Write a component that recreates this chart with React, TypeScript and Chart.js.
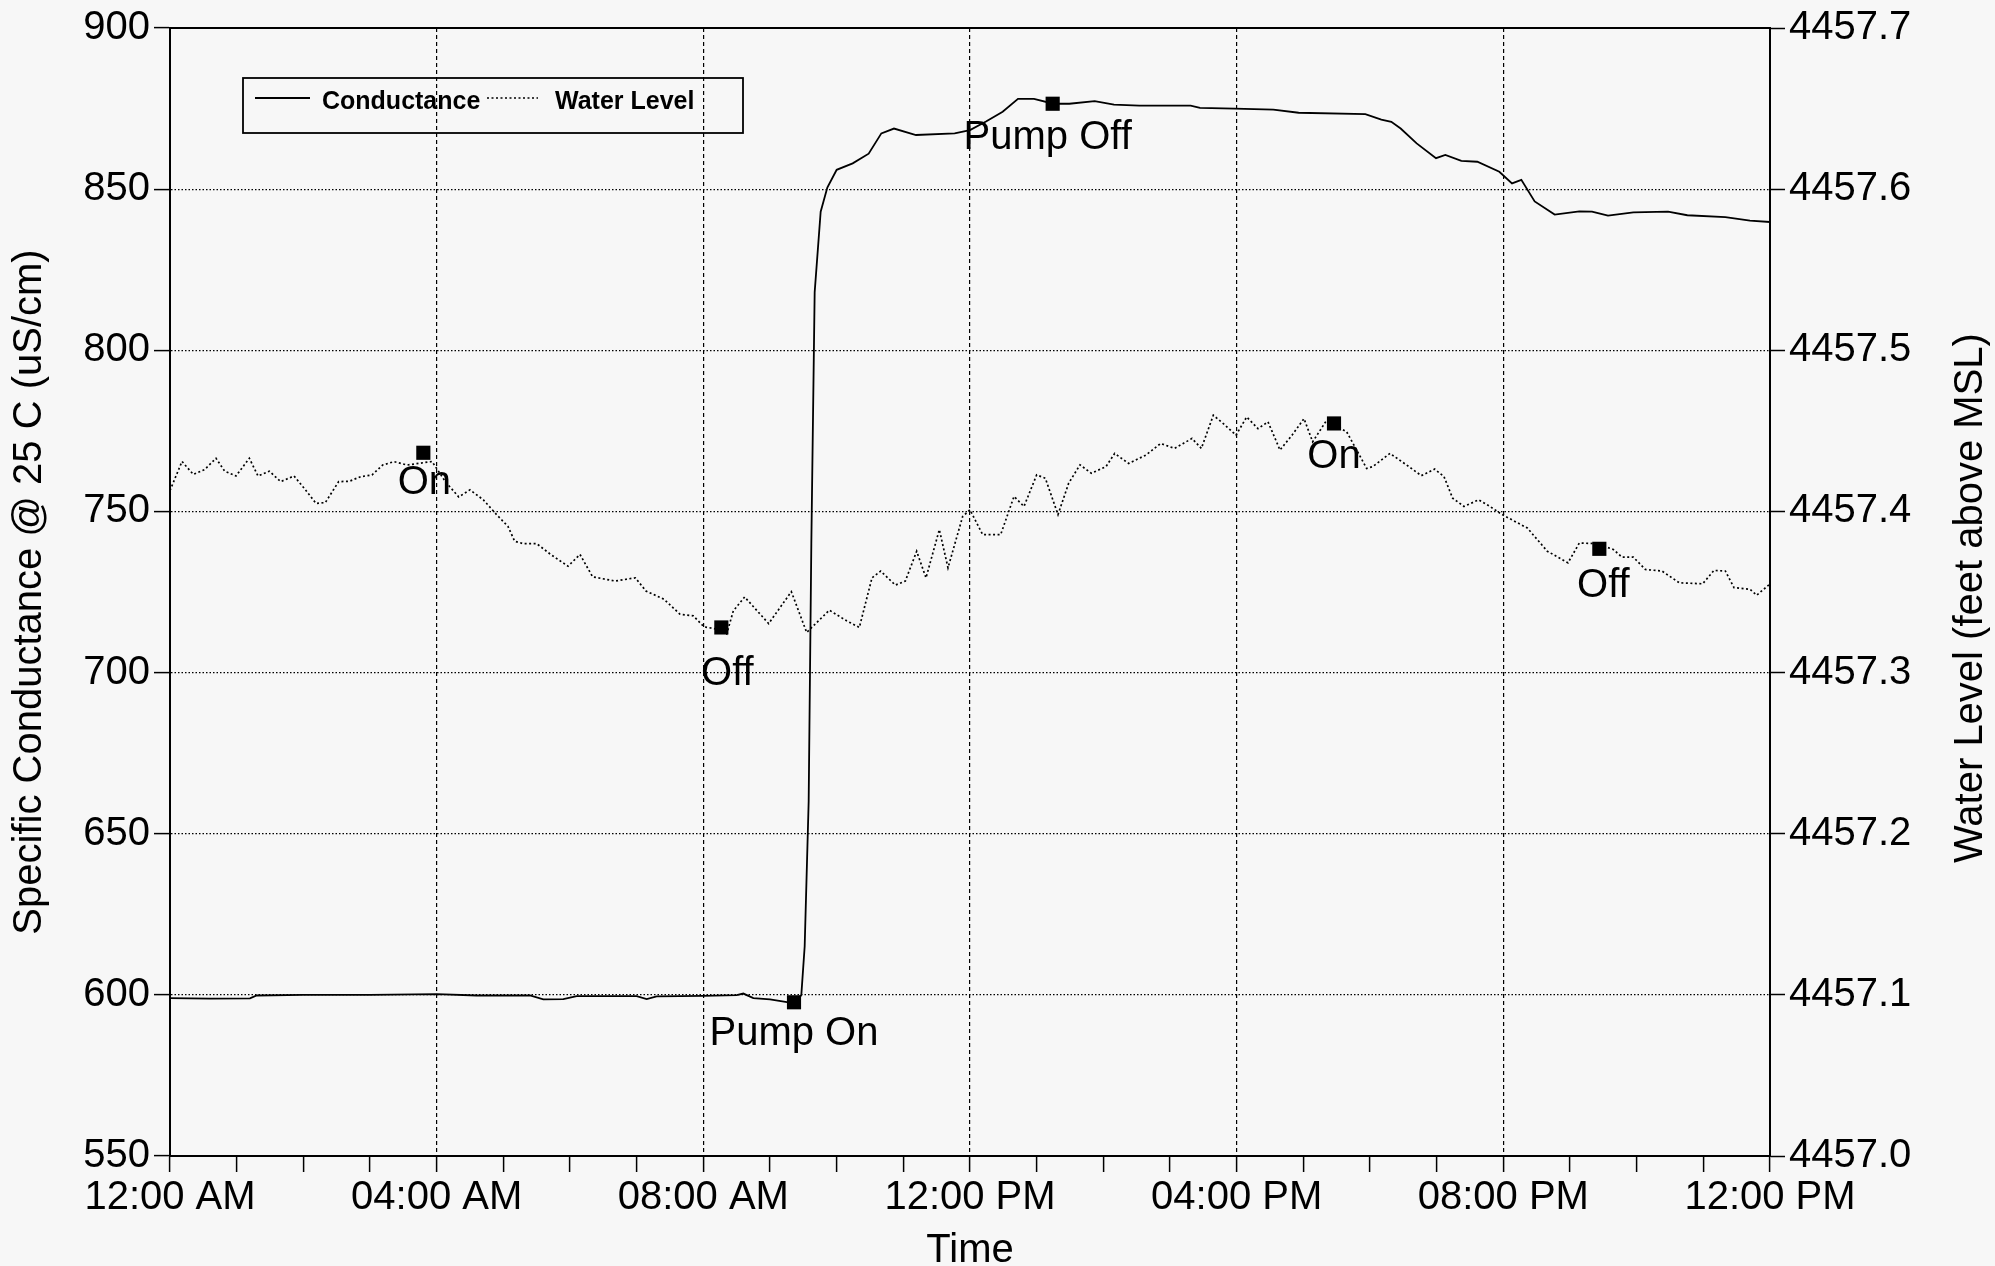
import React, { useEffect, useRef } from "react";
import { Chart, registerables } from "chart.js";

Chart.register(...registerables);

const FONT = "'Liberation Sans', Arial, Helvetica, sans-serif";

// ---- axis ticks ----
const hourTicks = [0, 4, 8, 12, 16, 20, 24];
const hourTickLabels = ["12:00 AM", "04:00 AM", "08:00 AM", "12:00 PM", "04:00 PM", "08:00 PM", "12:00 PM"];
const conductanceMin = 550;
const conductanceMax = 900;
const conductanceStep = 50;
const waterMin = 4457.0;
const waterMax = 4457.7;
const waterStep = 0.1;

// ---- Conductance (hours since midnight, uS/cm) ----
const conductanceTimes = [
  0.0, 0.6, 1.2, 1.3, 2.0, 3.0, 4.0, 4.6, 5.4, 5.6, 5.9, 6.1, 7.0, 7.15, 7.3, 8.0, 8.5, 8.6, 8.75, 9.0,
  9.3, 9.4, 9.47, 9.52, 9.58, 9.62, 9.67, 9.76, 9.86, 10.0, 10.24, 10.48, 10.67, 10.86, 11.19, 11.77, 12.0,
  12.24, 12.49, 12.72, 12.96, 13.25, 13.49, 13.87, 14.16, 14.54, 15.31, 15.45, 15.97, 16.55, 16.93, 17.93,
  18.17, 18.32, 18.46, 18.7, 18.99, 19.13, 19.37, 19.61, 19.94, 20.13, 20.27, 20.47, 20.77, 21.14, 21.33,
  21.57, 21.95, 22.47, 22.76, 23.33, 23.7, 24.0,
];
const conductanceValues = [
  599.0, 598.8, 598.9, 599.8, 600.0, 600.0, 600.2, 599.8, 599.8, 598.6, 598.7, 599.6, 599.6, 598.7, 599.5, 599.7, 599.9, 600.4, 599.0, 598.6,
  597.6, 597.8, 600.0, 615.0, 660.0, 740.0, 818.0, 843.0, 850.5, 856.0, 858.0, 861.0, 867.3, 868.8, 866.8, 867.3, 868.3,
  871.0, 874.0, 878.0, 878.0, 876.5, 876.5, 877.3, 876.2, 875.9, 875.9, 875.2, 875.0, 874.7, 873.7, 873.3,
  871.6, 870.9, 868.8, 864.2, 859.6, 860.6, 858.8, 858.5, 855.4, 851.8, 852.9, 846.2, 842.1, 843.1, 843.0,
  841.8, 842.8, 843.0, 841.9, 841.3, 840.2, 839.8,
];

// ---- Water level (hours since midnight, feet above MSL) ----
const waterTimes = [
  0.0, 0.18, 0.35, 0.52, 0.69, 0.82, 0.99, 1.19, 1.32, 1.49, 1.66, 1.86, 2.02, 2.19, 2.33, 2.53, 2.69, 2.86,
  3.03, 3.19, 3.36, 3.56, 3.93, 4.13, 4.33, 4.5, 4.7, 4.9, 5.07, 5.17, 5.3, 5.5, 5.71, 5.97, 6.15, 6.34,
  6.68, 6.98, 7.14, 7.41, 7.65, 7.85, 8.01, 8.2, 8.35, 8.45, 8.62, 8.98, 9.32, 9.55, 9.89, 10.15, 10.34,
  10.53, 10.66, 10.88, 11.03, 11.2, 11.34, 11.54, 11.67, 11.89, 12.0, 12.19, 12.46, 12.66, 12.81, 13.0,
  13.13, 13.32, 13.48, 13.65, 13.82, 14.04, 14.17, 14.38, 14.64, 14.86, 15.07, 15.2, 15.33, 15.47, 15.65,
  15.8, 15.99, 16.15, 16.32, 16.47, 16.65, 16.83, 17.01, 17.14, 17.35, 17.65, 17.95, 18.04, 18.3, 18.55,
  18.77, 18.97, 19.11, 19.24, 19.41, 19.63, 19.8, 19.97, 20.36, 20.66, 20.97, 21.14, 21.4, 21.65, 21.78,
  21.95, 22.13, 22.38, 22.64, 22.99, 23.16, 23.33, 23.46, 23.7, 23.8, 24.0,
];
const waterValues = [
  4457.413, 4457.431, 4457.423, 4457.426, 4457.433, 4457.425, 4457.422, 4457.433, 4457.422, 4457.425, 4457.4185, 4457.422, 4457.414, 4457.405, 4457.4055, 4457.4185, 4457.4187, 4457.4216,
  4457.4226, 4457.4288, 4457.4309, 4457.4288, 4457.431, 4457.4185, 4457.409, 4457.4134, 4457.4072, 4457.398, 4457.3907, 4457.3815, 4457.38, 4457.38, 4457.3733, 4457.366, 4457.3733, 4457.3594,
  4457.3568, 4457.3588, 4457.3506, 4457.3455, 4457.3362, 4457.3352, 4457.3284, 4457.327, 4457.3239, 4457.3383, 4457.3469, 4457.3304, 4457.3502, 4457.3249, 4457.3387, 4457.3321, 4457.328,
  4457.3588, 4457.363, 4457.3543, 4457.3568, 4457.3753, 4457.3588, 4457.3887, 4457.365, 4457.3969, 4457.401, 4457.3856, 4457.3856, 4457.4093, 4457.4031, 4457.4227,
  4457.4206, 4457.398, 4457.4175, 4457.4289, 4457.4237, 4457.4278, 4457.436, 4457.4298, 4457.435, 4457.4422, 4457.4391, 4457.4422, 4457.4453, 4457.4391, 4457.4597,
  4457.4545, 4457.4473, 4457.4586, 4457.4514, 4457.4556, 4457.4381, 4457.4473, 4457.4576, 4457.4432, 4457.4566, 4457.4494, 4457.4267, 4457.4278, 4457.436, 4457.4288,
  4457.4222, 4457.4263, 4457.4216, 4457.4082, 4457.4031, 4457.4072, 4457.4031, 4457.3983, 4457.3897, 4457.3753, 4457.3681, 4457.3804, 4457.38, 4457.3764, 4457.3716,
  4457.3716, 4457.364, 4457.363, 4457.3557, 4457.3551, 4457.3634, 4457.363, 4457.3527, 4457.3517, 4457.348, 4457.355,
];

// ---- Event markers ----
const pumpEventLabels = ["Pump On", "Pump Off"];
const pumpEventTimes = [9.36, 13.24];
const pumpEventValues = [597.7, 876.5];
const wellEventLabels = ["On", "Off", "On", "Off"];
const wellEventTimes = [3.8, 8.27, 17.46, 21.44];
const wellEventValues = [4457.4364, 4457.328, 4457.4546, 4457.3768];

// label placement relative to marker (styling, pixels)
const pumpLabelOffsets = [{ dx: 0, dy: 29 }, { dx: -5, dy: 31 }];
const wellLabelOffsets = [{ dx: 1, dy: 27 }, { dx: 6, dy: 44 }, { dx: 0, dy: 31 }, { dx: 4, dy: 34 }];

const toPoints = (xs: number[], ys: number[]) => xs.map((x, i) => ({ x, y: ys[i] }));

const overlayPlugin = {
  id: "overlay",
  afterDraw(chart: any) {
    const ctx = chart.ctx as CanvasRenderingContext2D;
    const { left, right, top } = chart.chartArea;
    ctx.save();
    // top frame line
    ctx.strokeStyle = "#000";
    ctx.lineWidth = 2;
    ctx.beginPath();
    ctx.moveTo(left, top);
    ctx.lineTo(right, top);
    ctx.stroke();

    // legend box
    const lx = 243, ly = 78, lw = 500, lh = 55;
    ctx.lineWidth = 1.8;
    ctx.strokeRect(lx, ly, lw, lh);
    const lineY = 98;
    ctx.lineWidth = 1.8;
    ctx.setLineDash([]);
    ctx.beginPath();
    ctx.moveTo(255, lineY);
    ctx.lineTo(310, lineY);
    ctx.stroke();
    ctx.lineWidth = 1.6;
    ctx.setLineDash([2, 2.5]);
    ctx.beginPath();
    ctx.moveTo(487, lineY);
    ctx.lineTo(538, lineY);
    ctx.stroke();
    ctx.setLineDash([]);
    ctx.fillStyle = "#000";
    ctx.font = `bold 25px ${FONT}`;
    ctx.textAlign = "left";
    ctx.textBaseline = "alphabetic";
    ctx.fillText("Conductance", 322, 109);
    ctx.fillText("Water Level", 555, 109);

    // event labels
    ctx.font = `40px ${FONT}`;
    ctx.textAlign = "center";
    const drawLabels = (dsIndex: number, labels: string[], offs: { dx: number; dy: number }[]) => {
      const meta = chart.getDatasetMeta(dsIndex);
      meta.data.forEach((el: any, i: number) => {
        ctx.fillText(labels[i], el.x + offs[i].dx, el.y + offs[i].dy + 14);
      });
    };
    drawLabels(0, pumpEventLabels, pumpLabelOffsets);
    drawLabels(1, wellEventLabels, wellLabelOffsets);

    // right axis title (reads bottom-to-top)
    ctx.translate(1971, 598);
    ctx.rotate(-Math.PI / 2);
    ctx.textAlign = "center";
    ctx.textBaseline = "middle";
    ctx.font = `40px ${FONT}`;
    ctx.fillText("Water Level (feet above MSL)", 0, 0);
    ctx.restore();
  },
};

export default function App() {
  const ref = useRef<HTMLCanvasElement>(null);

  useEffect(() => {
    if (!ref.current) return;
    const chart = new Chart(ref.current, {
      type: "line",
      data: {
        datasets: [
          {
            label: "Pump events",
            data: toPoints(pumpEventTimes, pumpEventValues),
            yAxisID: "y",
            showLine: false,
            pointStyle: "rect",
            pointRadius: 10,
            pointBackgroundColor: "#000",
            pointBorderColor: "#000",
            pointBorderWidth: 0,
            order: 0,
          },
          {
            label: "Well events",
            data: toPoints(wellEventTimes, wellEventValues),
            yAxisID: "y1",
            showLine: false,
            pointStyle: "rect",
            pointRadius: 10,
            pointBackgroundColor: "#000",
            pointBorderColor: "#000",
            pointBorderWidth: 0,
            order: 0,
          },
          {
            label: "Conductance",
            data: toPoints(conductanceTimes, conductanceValues),
            yAxisID: "y",
            borderColor: "#000",
            borderWidth: 1.8,
            pointRadius: 0,
            tension: 0,
            order: 1,
          },
          {
            label: "Water Level",
            data: toPoints(waterTimes, waterValues),
            yAxisID: "y1",
            borderColor: "#000",
            borderWidth: 1.7,
            borderDash: [2, 2.5],
            pointRadius: 0,
            tension: 0,
            order: 1,
          },
        ],
      },
      options: {
        responsive: false,
        animation: false,
        devicePixelRatio: 1,
        layout: { padding: { top: 23, left: 0, right: 0, bottom: 0 } },
        plugins: { legend: { display: false }, tooltip: { enabled: false } },
        scales: {
          x: {
            type: "linear",
            position: "bottom",
            min: 0,
            max: 24,
            ticks: {
              stepSize: 1,
              autoSkip: false,
              maxRotation: 0,
              minRotation: 0,
              padding: 2,
              color: "#000",
              font: { family: FONT, size: 40 },
              callback: (v: any) => {
                const i = hourTicks.indexOf(Number(v));
                return i >= 0 ? hourTickLabels[i] : "";
              },
            },
            grid: {
              color: (c: any) => (c.tick && Number(c.tick.value) % 4 === 0 ? "#000" : "rgba(0,0,0,0)"),
              lineWidth: 1.2,
              tickColor: "#000",
              tickLength: 16,
              tickWidth: 1.5,
              tickBorderDash: [],
            },
            border: { display: true, color: "#000", width: 2, dash: [4, 3] },
            title: {
              display: true,
              text: "Time",
              color: "#000",
              font: { family: FONT, size: 40, lineHeight: 0.75 },
              padding: 0,
            },
            afterFit: (s: any) => {
              s.height = 110;
            },
          },
          y: {
            type: "linear",
            position: "left",
            min: conductanceMin,
            max: conductanceMax,
            ticks: { stepSize: conductanceStep, padding: 4, color: "#000", font: { family: FONT, size: 40 } },
            grid: { color: "#000", lineWidth: 1.2, tickColor: "#000", tickLength: 16, tickWidth: 1.5, tickBorderDash: [] },
            border: { display: true, color: "#000", width: 2, dash: [1.5, 2] },
            title: {
              display: true,
              text: "Specific Conductance @ 25 C (uS/cm)",
              color: "#000",
              font: { family: FONT, size: 40 },
              padding: { top: 6, bottom: 0 },
            },
            afterFit: (s: any) => {
              s.width = 170;
            },
          },
          y1: {
            type: "linear",
            position: "right",
            min: waterMin,
            max: waterMax,
            ticks: {
              stepSize: waterStep,
              padding: 4,
              color: "#000",
              font: { family: FONT, size: 40 },
              callback: (v: any) => Number(v).toFixed(1),
            },
            grid: { drawOnChartArea: false, tickColor: "#000", tickLength: 15, tickWidth: 1.5 },
            border: { display: true, color: "#000", width: 2 },
            afterFit: (s: any) => {
              s.width = 225;
            },
          },
        },
      } as any,
      plugins: [overlayPlugin],
    });
    return () => chart.destroy();
  }, []);

  return (
    <div
      style={{
        position: "fixed",
        left: 0,
        top: 0,
        width: 1995,
        height: 1266,
        background: "#f7f7f7",
        overflow: "hidden",
      }}
    >
      <canvas ref={ref} width={1995} height={1266} style={{ display: "block", width: 1995, height: 1266 }} />
    </div>
  );
}
